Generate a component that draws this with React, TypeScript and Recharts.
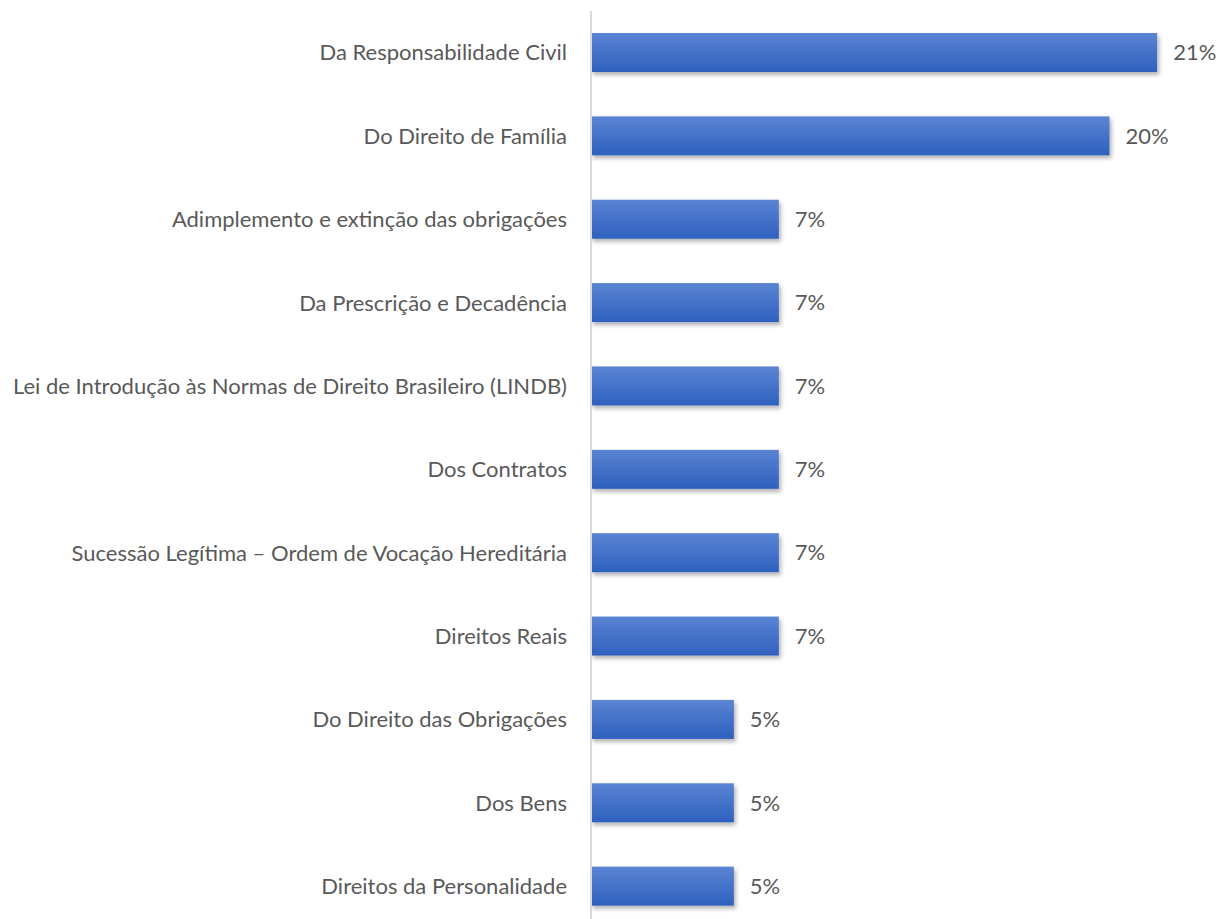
import { Bar, BarChart, LabelList, XAxis, YAxis } from 'recharts';

const categories = [
  'Da Responsabilidade Civil',
  'Do Direito de Família',
  'Adimplemento e extinção das obrigações',
  'Da Prescrição e Decadência',
  'Lei de Introdução às Normas de Direito Brasileiro (LINDB)',
  'Dos Contratos',
  'Sucessão Legítima – Ordem de Vocação Hereditária',
  'Direitos Reais',
  'Do Direito das Obrigações',
  'Dos Bens',
  'Direitos da Personalidade',
];

// share of total, in percent
const shares = [21.4, 19.6, 7.1, 7.1, 7.1, 7.1, 7.1, 7.1, 5.4, 5.4, 5.4];

const data = categories.map((name, i) => ({ name, value: shares[i] }));

const FONT = 'Lato, "Open Sans", sans-serif';
const TEXT = '#595959';

function ShadedBar({ x, y, width, height }: any) {
  if (!width || width <= 0) return null;
  return (
    <rect x={x} y={y} width={width} height={height} fill="url(#barGrad)" filter="url(#barShadow)" />
  );
}

export default function App() {
  return (
    <div style={{ position: 'absolute', top: 0, left: 0, width: 1219, height: 919, overflow: 'hidden', background: '#fff' }}>
      <BarChart
        layout="vertical"
        width={1219}
        height={928}
        data={data}
        margin={{ top: 11, right: 46, bottom: 0, left: 0 }}
      >
        <defs>
          <linearGradient id="barGrad" x1="0" y1="0" x2="0" y2="1">
            <stop offset="0%" stopColor="#5b84d3" />
            <stop offset="100%" stopColor="#2e60be" />
          </linearGradient>
          <filter id="barShadow" x="-5%" y="-20%" width="115%" height="160%">
            <feDropShadow dx="2" dy="3" stdDeviation="2" floodColor="#000" floodOpacity="0.3" />
          </filter>
        </defs>
        <XAxis type="number" domain={[0, 22]} hide />
        <YAxis
          type="category"
          dataKey="name"
          width={591}
          axisLine={{ stroke: '#d9d9d9', strokeWidth: 2 }}
          tickLine={false}
          tickMargin={18}
          interval={0}
          tick={{ fill: TEXT, fontSize: 22, fontFamily: FONT }}
        />
        <Bar dataKey="value" barSize={39} shape={<ShadedBar />} isAnimationActive={false}>
          <LabelList
            dataKey="value"
            position="right"
            offset={16}
            formatter={(v: any) => `${Math.round(Number(v))}%`}
            style={{ fill: TEXT, fontSize: 22, fontFamily: FONT }}
          />
        </Bar>
      </BarChart>
    </div>
  );
}
